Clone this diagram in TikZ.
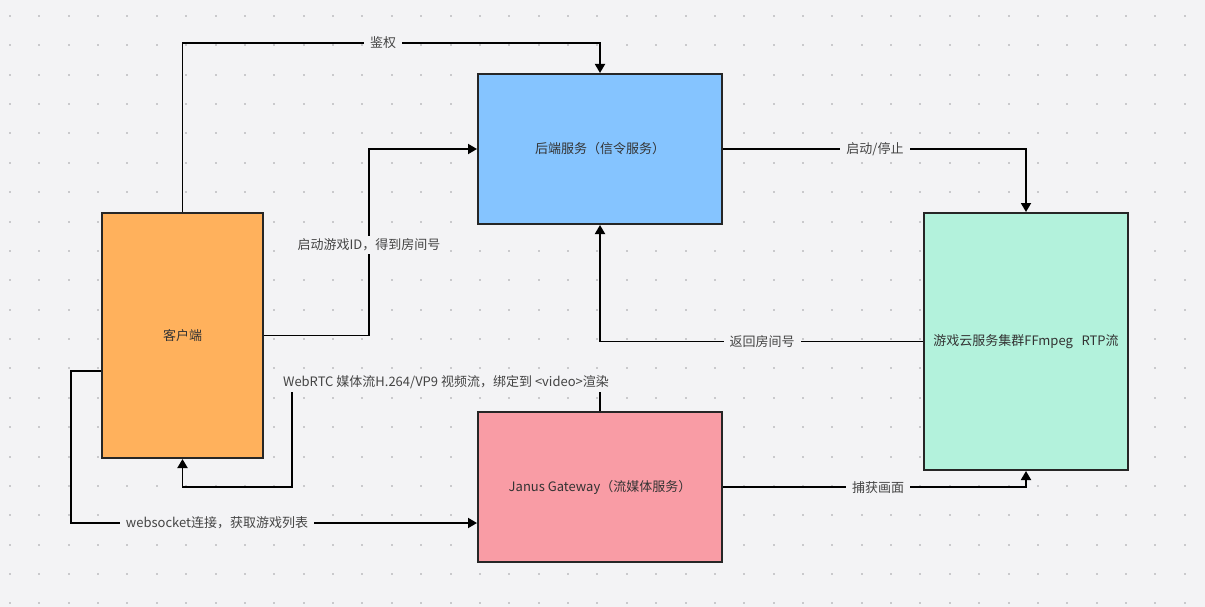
\documentclass[tikz,border=0pt]{standalone}
\usepackage{fontspec}
\setmainfont{Noto Sans CJK SC}
\usetikzlibrary{arrows.meta}
\definecolor{bgc}{HTML}{F3F3F5}
\definecolor{dotc}{HTML}{C9C9CC}
\definecolor{orangec}{HTML}{FFB15C}
\definecolor{bluec}{HTML}{85C4FF}
\definecolor{greenc}{HTML}{B3F2DC}
\definecolor{pinkc}{HTML}{F99CA5}
\definecolor{txtc}{HTML}{444444}
\tikzset{
  box/.style={draw=black!85, line width=2pt, inner sep=0pt, text=black!80, font=\fontsize{13}{15}\selectfont},
  conn/.style={draw=black, line width=1.8pt, -{Triangle[width=10pt,length=9pt]}},
  lbl/.style={fill=bgc, inner xsep=6pt, inner ysep=3pt, text=txtc, font=\fontsize{13}{15}\selectfont},
}
\begin{document}
\begin{tikzpicture}[x=1pt,y=-1pt]
\fill[bgc] (0,0) rectangle (1205,607);
\useasboundingbox (0,0) rectangle (1205,607);
\foreach \i in {0,...,40}{
  \foreach \j in {0,...,20}{
    \fill[dotc] ({10+29.37*\i-1},{16+29.37*\j-1}) rectangle ++(2,2);
  }
}
\node[box, fill=orangec, minimum width=161pt, minimum height=245pt] (client) at (182.5,335.5) {客户端};
\node[box, fill=bluec, minimum width=244pt, minimum height=150pt] (backend) at (600,149) {后端服务（信令服务）};
\node[box, fill=greenc, minimum width=204pt, minimum height=257pt] (cloud) at (1026,341.5) {游戏云服务集群FFmpeg\ \ \ RTP流};
\node[box, fill=pinkc, minimum width=244pt, minimum height=150pt] (janus) at (600,487) {Janus Gateway（流媒体服务）};

\draw[conn] (client.north) |- (400,43) -| (backend.north);
\node[lbl] (l1) at (383,43) {鉴权};

\draw[conn] (client.east) -- (369,335.5) |- (backend.west);
\node[lbl] (l2) at (369,245) {启动游戏ID，得到房间号};

\draw[conn] (backend.east) -| (cloud.north);
\node[lbl] (l3) at (875,149) {启动/停止};

\draw[conn] (cloud.west) -| (backend.south);
\node[lbl] (l4) at (762,342) {返回房间号};

\draw[conn] (janus.north) -- (600,382) -- (292,382) -- (292,487) -| (client.south);
\node[lbl] (l5) at (446,382) {WebRTC 媒体流H.264/VP9 视频流，绑定到 <video>渲染};

\draw[conn] (client.west |- 0,371) -- (71,371) |- (janus.west |- 0,523);
\node[lbl] (l6) at (217,523) {websocket连接，获取游戏列表};

\draw[conn] (janus.east) -| (cloud.south);
\node[lbl] (l7) at (878,488) {捕获画面};
\end{tikzpicture}
\end{document}
